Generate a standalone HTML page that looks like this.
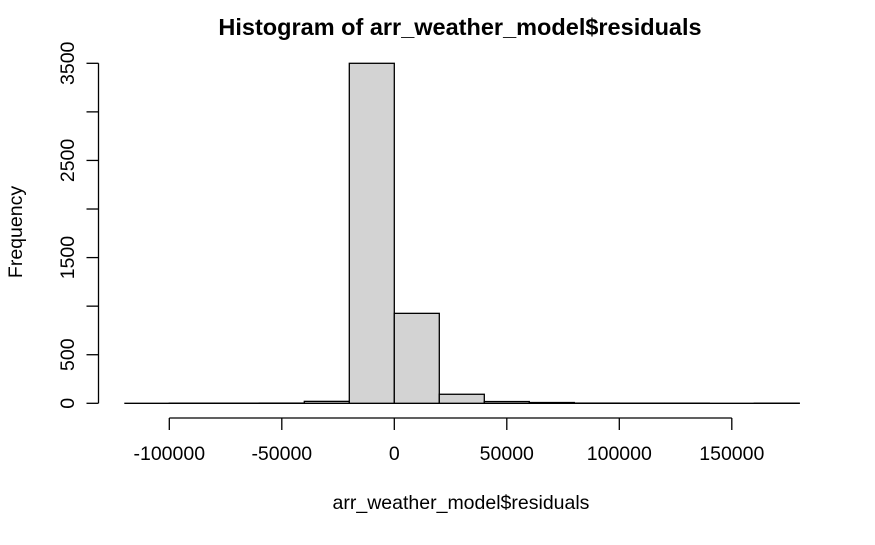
<!DOCTYPE html>
<html><head><meta charset="utf-8"><style>
body{margin:0;background:#fff}
svg text{font-family:"Liberation Sans",Arial,sans-serif;fill:#000}
</style></head><body>
<svg width="875" height="540" viewBox="0 0 875 540" xmlns="http://www.w3.org/2000/svg">
<rect width="875" height="540" fill="#fff"/>
<text x="460" y="35" font-size="23.5" font-weight="bold" text-anchor="middle">Histogram of arr_weather_model$residuals</text>
<text x="461" y="509" font-size="19.5" text-anchor="middle">arr_weather_model$residuals</text>
<text transform="translate(22,232) rotate(-90)" font-size="19.5" text-anchor="middle">Frequency</text>
<g id="bars"></g>
<g id="xaxis"></g>
<g id="yaxis"></g>
</svg>
<script>
const binStarts=[-120000,-100000,-80000,-60000,-40000,-20000,0,20000,40000,60000,80000,100000,120000,140000,160000];
const binWidth=20000;
const counts=[0,1,1,2,20,3500,926,93,18,8,2,1,1,0,1];
const xTicks=[-100000,-50000,0,50000,100000,150000];
const yTicks=[0,500,1000,1500,2000,2500,3000,3500];
const yLabels=["0","500","","1500","","2500","","3500"];
const NS="http://www.w3.org/2000/svg";
const sx=v=>394.3+v*(225/100000);
const sy=v=>403.3-v*(340/3500);
function mk(t,a,p){const e=document.createElementNS(NS,t);for(const k in a)e.setAttribute(k,a[k]);p.appendChild(e);return e;}
const bars=document.getElementById('bars');
const base=mk('line',{x1:sx(binStarts[0]),x2:sx(binStarts[binStarts.length-1]+binWidth),y1:sy(0),y2:sy(0),stroke:'#000','stroke-width':1.3},bars);


binStarts.forEach((b,i)=>{
  const x0=sx(b),x1=sx(b+binWidth),y=sy(counts[i]);
  const r=mk('rect',{x:x0,y:y,width:x1-x0,height:Math.max(sy(0)-y,0),fill:'#d3d3d3',stroke:'#000','stroke-width':1.3},bars);
  
  
});
const xa=document.getElementById('xaxis');


mk('line',{x1:sx(xTicks[0]),x2:sx(xTicks[xTicks.length-1]),y1:418,y2:418,stroke:'#000','stroke-width':1.3},xa);
xTicks.forEach(t=>{
  mk('line',{x1:sx(t),x2:sx(t),y1:418,y2:430,stroke:'#000','stroke-width':1.3},xa);
  const tx=mk('text',{x:sx(t),y:460,'font-size':19.5,'text-anchor':'middle'},xa);
  tx.textContent=String(t);
  
  
});
const ya=document.getElementById('yaxis');


mk('line',{x1:98.5,x2:98.5,y1:sy(yTicks[0]),y2:sy(yTicks[yTicks.length-1]),stroke:'#000','stroke-width':1.3},ya);
yTicks.forEach((t,i)=>{
  mk('line',{x1:86.5,x2:98.5,y1:sy(t),y2:sy(t),stroke:'#000','stroke-width':1.3},ya);
  if(yLabels[i]){
    const tx=mk('text',{transform:`translate(74,${sy(t)}) rotate(-90)`,'font-size':19.5,'text-anchor':'middle'},ya);
    tx.textContent=yLabels[i];
    
    
  }
});
</script>
</body></html>
